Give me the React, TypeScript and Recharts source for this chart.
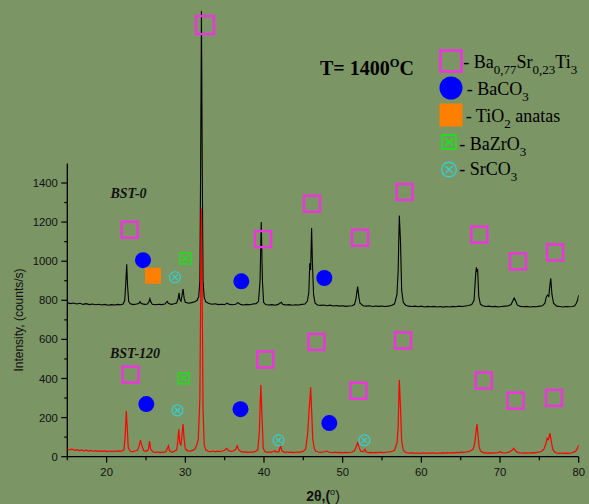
import React from 'react';
import { ComposedChart, Line, Scatter, XAxis, YAxis, ReferenceLine } from 'recharts';

// 2θ (deg), intensity (counts/s)
const bst0Points: [number, number][] = [
  [15.0, 788], [15.4, 783], [15.8, 786], [16.2, 781], [16.6, 785], [17.0, 779], [17.4, 783], [17.8, 778],
  [18.2, 781], [18.6, 777], [19.0, 780], [19.4, 776], [19.8, 779], [20.2, 775], [20.6, 778], [21.0, 776],
  [21.4, 779], [21.8, 777], [22.1, 781], [22.3, 800], [22.45, 900], [22.55, 984], [22.65, 880], [22.8, 795],
  [23.0, 782], [23.4, 778], [23.8, 781], [24.1, 784], [24.25, 793], [24.4, 783], [24.8, 779], [25.2, 781],
  [25.4, 795], [25.5, 808], [25.6, 793], [25.8, 780], [26.2, 777], [26.6, 780], [27.0, 778], [27.4, 781],
  [27.7, 794], [27.85, 785], [28.2, 779], [28.6, 782], [28.9, 786], [29.1, 810], [29.2, 838], [29.3, 805],
  [29.45, 795], [29.6, 830], [29.72, 858], [29.85, 810], [30.0, 790], [30.4, 785], [30.8, 788], [31.2, 792],
  [31.5, 800], [31.7, 818], [31.85, 900], [31.95, 1500], [32.05, 2280], [32.15, 1500], [32.25, 900], [32.4, 815],
  [32.6, 792], [33.0, 784], [33.4, 780], [33.8, 782], [34.2, 778], [34.6, 780], [35.0, 778], [35.3, 786],
  [35.6, 779], [36.0, 777], [36.4, 780], [36.7, 788], [37.0, 779], [37.4, 776], [37.8, 779], [38.2, 777],
  [38.6, 781], [39.0, 783], [39.3, 795], [39.5, 900], [39.65, 1200], [39.8, 900], [39.95, 790], [40.2, 778],
  [40.6, 776], [41.0, 778], [41.4, 775], [41.8, 779], [42.2, 790], [42.4, 779], [42.8, 776], [43.2, 778],
  [43.6, 775], [44.0, 777], [44.4, 776], [44.8, 779], [45.2, 781], [45.5, 795], [45.7, 840], [45.82, 990],
  [45.93, 955], [46.05, 1170], [46.15, 1000], [46.3, 830], [46.5, 785], [46.8, 776], [47.2, 774], [47.6, 776],
  [48.0, 772], [48.4, 775], [48.8, 771], [49.2, 773], [49.6, 770], [50.0, 772], [50.4, 769], [50.8, 771],
  [51.2, 772], [51.5, 778], [51.7, 810], [51.9, 870], [52.05, 820], [52.2, 785], [52.4, 779], [52.6, 772],
  [53.0, 770], [53.4, 772], [53.8, 768], [54.2, 771], [54.6, 769], [55.0, 771], [55.4, 768], [55.8, 770],
  [56.2, 773], [56.6, 782], [56.9, 830], [57.05, 950], [57.2, 1233], [57.35, 1100], [57.5, 850], [57.7, 790],
  [58.0, 775], [58.4, 770], [58.8, 768], [59.2, 770], [59.6, 767], [60.0, 770], [60.4, 766], [60.8, 769],
  [61.2, 767], [61.6, 769], [62.0, 766], [62.4, 768], [62.8, 765], [63.2, 768], [63.6, 766], [64.0, 769],
  [64.4, 767], [64.8, 770], [65.2, 768], [65.6, 771], [66.0, 773], [66.4, 778], [66.7, 800], [66.9, 930],
  [67.0, 969], [67.07, 945], [67.15, 960], [67.3, 820], [67.5, 780], [67.8, 772], [68.2, 768], [68.6, 770],
  [69.0, 767], [69.4, 769], [69.8, 766], [70.2, 768], [70.6, 770], [71.0, 771], [71.4, 778], [71.6, 795],
  [71.8, 812], [72.0, 795], [72.2, 775], [72.6, 769], [73.0, 767], [73.4, 769], [73.8, 766], [74.2, 768],
  [74.6, 767], [75.0, 770], [75.4, 772], [75.7, 785], [75.9, 820], [76.05, 827], [76.2, 820], [76.35, 880],
  [76.45, 912], [76.6, 830], [76.8, 785], [77.2, 770], [77.6, 768], [78.0, 766], [78.4, 768], [78.8, 767],
  [79.2, 768], [79.5, 772], [79.7, 785], [79.85, 800], [80.0, 827],
];

const bst120Points: [number, number][] = [
  [15.0, 38], [15.3, 35], [15.6, 39], [15.9, 33], [16.2, 36], [16.5, 31], [16.8, 35], [17.1, 30],
  [17.4, 33], [17.7, 29], [18.0, 32], [18.3, 28], [18.6, 31], [18.9, 27], [19.2, 30], [19.5, 27],
  [19.8, 30], [20.1, 26], [20.4, 29], [20.7, 26], [21.0, 29], [21.3, 27], [21.6, 30], [21.9, 28],
  [22.2, 35], [22.35, 100], [22.5, 234], [22.6, 160], [22.75, 45], [23.0, 28], [23.3, 26], [23.6, 29],
  [23.9, 33], [24.1, 50], [24.3, 85], [24.45, 60], [24.7, 32], [25.0, 27], [25.3, 35], [25.45, 80],
  [25.6, 38], [25.9, 24], [26.2, 22], [26.5, 24], [26.8, 21], [27.1, 23], [27.5, 24], [27.7, 40],
  [27.85, 56], [28.0, 30], [28.3, 22], [28.6, 28], [28.9, 35], [29.05, 80], [29.17, 140], [29.3, 70],
  [29.45, 60], [29.6, 120], [29.72, 167], [29.85, 90], [30.0, 40], [30.3, 30], [30.6, 28], [30.9, 32],
  [31.2, 38], [31.45, 60], [31.65, 90], [31.85, 300], [31.97, 900], [32.06, 1270], [32.15, 800], [32.25, 250],
  [32.4, 60], [32.6, 35], [32.9, 28], [33.2, 26], [33.5, 29], [33.8, 25], [34.1, 28], [34.4, 26],
  [34.7, 29], [35.0, 33], [35.25, 43], [35.5, 30], [35.8, 27], [36.1, 29], [36.4, 38], [36.6, 56],
  [36.8, 35], [37.1, 26], [37.4, 23], [37.7, 25], [38.0, 22], [38.3, 24], [38.6, 23], [38.9, 27],
  [39.2, 35], [39.4, 120], [39.6, 367], [39.75, 200], [39.9, 45], [40.1, 26], [40.4, 22], [40.7, 24],
  [41.0, 23], [41.2, 28], [41.4, 30], [41.6, 24], [41.9, 26], [42.1, 56], [42.3, 30], [42.6, 22],
  [42.9, 24], [43.2, 22], [43.5, 23], [43.8, 21], [44.1, 24], [44.4, 22], [44.7, 25], [45.0, 28],
  [45.3, 40], [45.55, 120], [45.7, 213], [45.85, 300], [45.93, 355], [46.05, 240], [46.2, 90], [46.4, 40],
  [46.6, 28], [46.9, 24], [47.2, 22], [47.5, 24], [47.97, 29], [48.2, 24], [48.5, 22], [48.8, 21],
  [49.1, 23], [49.4, 21], [49.7, 22], [50.0, 20], [50.3, 22], [50.6, 21], [50.9, 22], [51.2, 24],
  [51.5, 30], [51.7, 50], [51.9, 72], [52.1, 45], [52.3, 28], [52.6, 26], [52.84, 38], [53.0, 24],
  [53.3, 21], [53.6, 22], [53.9, 20], [54.2, 22], [54.5, 21], [54.8, 23], [55.1, 21], [55.4, 22],
  [55.7, 24], [56.0, 25], [56.3, 28], [56.6, 34], [56.9, 70], [57.05, 150], [57.2, 392], [57.35, 250],
  [57.5, 80], [57.7, 35], [57.9, 24], [58.2, 20], [58.5, 18], [58.8, 20], [59.1, 17], [59.4, 19],
  [59.7, 17], [60.0, 18], [60.3, 20], [60.6, 17], [60.9, 19], [61.2, 18], [61.5, 20], [61.8, 17],
  [62.1, 19], [62.4, 18], [62.7, 20], [63.0, 18], [63.3, 21], [63.6, 19], [63.9, 21], [64.2, 20],
  [64.5, 22], [64.8, 21], [65.1, 23], [65.4, 22], [65.7, 24], [66.0, 26], [66.3, 30], [66.6, 40],
  [66.8, 70], [66.95, 130], [67.07, 167], [67.2, 110], [67.35, 50], [67.5, 30], [67.8, 22], [68.1, 20],
  [68.4, 18], [68.7, 20], [69.0, 18], [69.3, 20], [69.6, 19], [70.0, 26], [70.3, 20], [70.6, 19],
  [70.9, 21], [71.2, 24], [71.5, 32], [71.77, 43], [72.0, 28], [72.3, 21], [72.6, 19], [72.9, 20],
  [73.2, 18], [73.5, 20], [73.8, 19], [74.1, 21], [74.4, 20], [74.7, 22], [75.0, 24], [75.3, 28],
  [75.6, 40], [75.85, 70], [76.0, 94], [76.15, 88], [76.35, 120], [76.5, 80], [76.7, 40], [76.9, 25],
  [77.2, 19], [77.5, 17], [77.8, 19], [78.1, 17], [78.4, 18], [78.7, 17], [79.0, 19], [79.3, 22],
  [79.6, 28], [79.8, 40], [80.0, 60],
];

// phase markers [2θ, position in counts/s]
const perovskiteTopMark: [number, number][] = [[32.5, 2208]];
const perovskiteMarks: [number, number][] = [
  [22.93, 1161], [39.87, 1113], [46.1, 1294], [52.2, 1120], [57.88, 1354], [67.37, 1136], [72.28, 999], [76.99, 1045],
  [23.03, 420], [40.17, 497], [46.67, 587], [51.99, 337], [57.67, 595], [67.92, 390], [71.97, 287], [76.86, 301],
];
const baco3Marks: [number, number][] = [[24.62, 1005], [37.12, 897], [47.67, 914], [25.04, 269], [37.01, 243], [48.3, 172]];
const tio2Marks: [number, number][] = [[25.89, 926]];
const bazro3Marks: [number, number][] = [[30.02, 1014], [29.77, 401]];
const srco3Marks: [number, number][] = [[28.69, 918], [29.0, 237], [41.84, 84], [52.77, 84]];

const xTicks = [15, 20, 25, 30, 35, 40, 45, 50, 55, 60, 65, 70, 75, 80];
const yTicks = [0, 100, 200, 300, 400, 500, 600, 700, 800, 900, 1000, 1100, 1200, 1300, 1400];

const W = 589;
const H = 504;
const BG = '#7b9565';
const MAGENTA = '#f032e0';
const BLUE = '#0000ff';
const ORANGE = '#ff8000';
const GREEN = '#1ee01e';
const CYAN = '#35d0d0';
const SANS = '"Liberation Sans", Arial, sans-serif';
const SERIF = '"Liberation Serif", "Times New Roman", serif';

const toXY = (arr: [number, number][]) => arr.map(([x, y]) => ({ x, y }));

const YTick = (props: any) => {
  const { x, y, payload } = props;
  const v = payload.value;
  const major = v % 200 === 0;
  return (
    <g>
      <line x1={x - (major ? 6 : 3)} x2={x} y1={y} y2={y} stroke="#000" strokeWidth={1.2} />
      {major && (
        <text x={x - 9.5} y={y} dy="0.36em" textAnchor="end" fontSize={11.3} fontFamily={SANS} fill="#111">
          {v}
        </text>
      )}
    </g>
  );
};

const XTick = (props: any) => {
  const { x, y, payload } = props;
  const v = payload.value;
  const major = v % 10 === 0;
  return (
    <g>
      <line x1={x} x2={x} y1={y} y2={y + (major ? 6 : 3.5)} stroke="#000" strokeWidth={1.2} />
      {major && (
        <text x={x} y={y + 19.5} textAnchor="middle" fontSize={11.3} fontFamily={SANS} fill="#111">
          {v}
        </text>
      )}
    </g>
  );
};

const squareShape = (size: number) => (p: any) => (
  <rect x={p.cx - size / 2} y={p.cy - size / 2} width={size} height={size} fill="none" stroke={MAGENTA} strokeWidth={2.4} />
);
const circleShape = (p: any) => <circle cx={p.cx} cy={p.cy} r={8} fill={BLUE} />;
const orangeShape = (p: any) => <rect x={p.cx - 8} y={p.cy - 8} width={16} height={16} fill={ORANGE} />;
const boxXShape = (p: any) => {
  const s = 5.5;
  return (
    <g stroke={GREEN} strokeWidth={1.5} fill="none">
      <rect x={p.cx - s} y={p.cy - s} width={2 * s} height={2 * s} />
      <line x1={p.cx - s + 2.5} y1={p.cy - s + 2.5} x2={p.cx + s - 2.5} y2={p.cy + s - 2.5} />
      <line x1={p.cx - s + 2.5} y1={p.cy + s - 2.5} x2={p.cx + s - 2.5} y2={p.cy - s + 2.5} />
    </g>
  );
};
const circXShape = (p: any) => {
  const r = 5.5;
  const d = 2.6;
  return (
    <g stroke={CYAN} strokeWidth={1.2} fill="none">
      <circle cx={p.cx} cy={p.cy} r={r} />
      <line x1={p.cx - d} y1={p.cy - d} x2={p.cx + d} y2={p.cy + d} />
      <line x1={p.cx - d} y1={p.cy + d} x2={p.cx + d} y2={p.cy - d} />
    </g>
  );
};

export default function App() {
  return (
    <div style={{ position: 'absolute', left: 0, top: 0, width: W, height: H, background: BG, overflow: 'hidden' }}>
      <ComposedChart width={W} height={H} margin={{ top: 0, right: 10.3, bottom: 0.3, left: 0.3 }}>
        <XAxis
          type="number"
          dataKey="x"
          domain={[15, 80]}
          ticks={xTicks}
          interval={0}
          tick={<XTick />}
          tickLine={false}
          tickSize={0}
          tickMargin={0}
          height={47}
          axisLine={{ stroke: '#000', strokeWidth: 1.3 }}
          allowDataOverflow
        />
        <YAxis
          type="number"
          dataKey="y"
          domain={[0, 2336]}
          ticks={yTicks}
          interval={0}
          tick={<YTick />}
          tickLine={false}
          axisLine={false}
          tickSize={0}
          tickMargin={0}
          width={67}
          allowDataOverflow
        />
        <ReferenceLine segment={[{ x: 15, y: 0 }, { x: 15, y: 1500 }]} stroke="#000" strokeWidth={1.3} ifOverflow="visible" />
        <Line data={toXY(bst0Points)} dataKey="y" type="linear" stroke="#000" strokeWidth={1.1} dot={false} isAnimationActive={false} />
        <Line data={toXY(bst120Points)} dataKey="y" type="linear" stroke="#ff0000" strokeWidth={1.2} dot={false} isAnimationActive={false} />
        <Scatter data={toXY(perovskiteTopMark)} dataKey="y" shape={squareShape(18)} isAnimationActive={false} />
        <Scatter data={toXY(perovskiteMarks)} dataKey="y" shape={squareShape(16)} isAnimationActive={false} />
        <Scatter data={toXY(baco3Marks)} dataKey="y" shape={circleShape} isAnimationActive={false} />
        <Scatter data={toXY(tio2Marks)} dataKey="y" shape={orangeShape} isAnimationActive={false} />
        <Scatter data={toXY(bazro3Marks)} dataKey="y" shape={boxXShape} isAnimationActive={false} />
        <Scatter data={toXY(srco3Marks)} dataKey="y" shape={circXShape} isAnimationActive={false} />
      </ComposedChart>
      <svg width={W} height={H} style={{ position: 'absolute', left: 0, top: 0, pointerEvents: 'none' }}>
        <text x={320} y={75} fontFamily={SERIF} fontWeight="bold" fontSize={20} fill="#000">
          T= 1400<tspan fontSize={12.5} dy={-8.5}>O</tspan>
          <tspan dy={8.5}>C</tspan>
        </text>
        <text x={110.5} y={197.5} fontFamily={SERIF} fontWeight="bold" fontStyle="italic" fontSize={14} fill="#111">BST-0</text>
        <text x={110} y={357.5} fontFamily={SERIF} fontWeight="bold" fontStyle="italic" fontSize={14} fill="#111">BST-120</text>
        <text x={18.5} y={320} transform="rotate(-90 18.5 320)" textAnchor="middle" dy="0.35em" fontFamily={SANS} fontSize={12} fill="#111">
          Intensity, (counts/s)
        </text>
        <text x={323} y={501} textAnchor="middle" fontFamily={SANS} fontWeight="bold" fontSize={14} fill="#111">
          2θ,(<tspan fontSize={9} fontWeight="normal" dy={-6}>o</tspan>
          <tspan dy={6} fontWeight="normal">)</tspan>
        </text>
        {/* legend */}
        <rect x={440.5} y={50.5} width={21} height={21} fill="none" stroke={MAGENTA} strokeWidth={2.6} />
        <circle cx={451} cy={88} r={11.5} fill={BLUE} />
        <rect x={439.5} y={103.5} width={23} height={23} fill={ORANGE} />
        <g stroke={GREEN} strokeWidth={1.8} fill="none">
          <rect x={442} y={135} width={14} height={14} />
          <line x1={445} y1={138} x2={453} y2={146} />
          <line x1={445} y1={146} x2={453} y2={138} />
        </g>
        <g stroke={CYAN} strokeWidth={1.4} fill="none">
          <circle cx={449} cy={169.5} r={7.3} />
          <line x1={445.5} y1={166} x2={452.5} y2={173} />
          <line x1={445.5} y1={173} x2={452.5} y2={166} />
        </g>
        <g fontFamily={SERIF} fontSize={18} fill="#000">
          <text x={463.3} y={68.3}>
            - Ba<tspan fontSize={13} dy={6}>0,77</tspan>
            <tspan dy={-6}>Sr</tspan>
            <tspan fontSize={13} dy={6}>0,23</tspan>
            <tspan dy={-6}>Ti</tspan>
            <tspan fontSize={13} dy={6}>3</tspan>
          </text>
          <text x={466.7} y={95}>
            - BaCO<tspan fontSize={13} dy={6}>3</tspan>
          </text>
          <text x={465.7} y={121.7}>
            - TiO<tspan fontSize={13} dy={6}>2</tspan>
            <tspan dy={-6}> anatas</tspan>
          </text>
          <text x={459.3} y={150}>
            - BaZrO<tspan fontSize={13} dy={6}>3</tspan>
          </text>
          <text x={459.3} y={175}>
            - SrCO<tspan fontSize={13} dy={6}>3</tspan>
          </text>
        </g>
      </svg>
    </div>
  );
}
